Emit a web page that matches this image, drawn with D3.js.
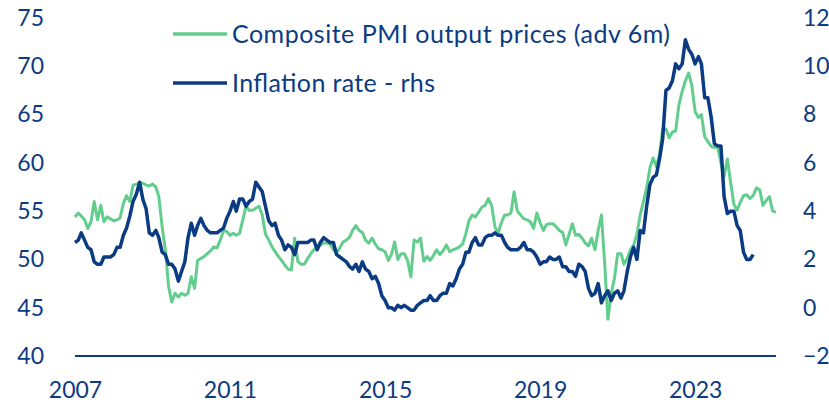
<!DOCTYPE html>
<html>
<head>
<meta charset="utf-8">
<script src="https://cdn.jsdelivr.net/npm/d3@7"></script>
<style>
  body { margin: 0; background: #fff; }
  svg text { font-family: Lato, "Open Sans", sans-serif; fill: #0b3b82; }
</style>
</head>
<body>
<div id="chart"></div>
<script>
// UK CPI inflation, % y/y, monthly from Jan 2007 (rhs)
const inflation = [
  2.7, 2.8, 3.1, 2.8, 2.5, 2.4, 1.9, 1.8, 1.8, 2.1, 2.1, 2.1,
  2.2, 2.5, 2.5, 3.0, 3.3, 3.8, 4.4, 4.7, 5.2, 4.5, 4.1, 3.1,
  3.0, 3.2, 2.9, 2.3, 2.2, 1.8, 1.8, 1.6, 1.1, 1.5, 1.9, 2.9,
  3.5, 3.0, 3.4, 3.7, 3.4, 3.2, 3.1, 3.1, 3.1, 3.2, 3.3, 3.7,
  4.0, 4.4, 4.0, 4.5, 4.5, 4.2, 4.4, 4.5, 5.2, 5.0, 4.8, 4.2,
  3.6, 3.4, 3.5, 3.0, 2.8, 2.4, 2.6, 2.5, 2.2, 2.7, 2.7, 2.7,
  2.7, 2.8, 2.8, 2.4, 2.7, 2.9, 2.8, 2.7, 2.7, 2.2, 2.1, 2.0,
  1.9, 1.7, 1.6, 1.8, 1.5, 1.9, 1.6, 1.5, 1.2, 1.3, 1.0, 0.5,
  0.3, 0.0, 0.0, -0.1, 0.1, 0.0, 0.1, 0.0, -0.1, -0.1, 0.1, 0.2,
  0.3, 0.3, 0.5, 0.3, 0.3, 0.5, 0.6, 0.6, 1.0, 0.9, 1.2, 1.6,
  1.8, 2.3, 2.3, 2.7, 2.9, 2.6, 2.6, 2.9, 3.0, 3.0, 3.1, 3.0,
  3.0, 2.7, 2.5, 2.4, 2.4, 2.4, 2.5, 2.7, 2.4, 2.4, 2.3, 2.1,
  1.8, 1.9, 1.9, 2.1, 2.0, 2.0, 2.1, 1.7, 1.7, 1.5, 1.5, 1.3,
  1.8, 1.7, 1.5, 0.8, 0.5, 0.6, 1.0, 0.2, 0.5, 0.7, 0.3, 0.6,
  0.7, 0.4, 0.7, 1.5, 2.1, 2.5, 2.0, 3.2, 3.1, 4.2, 5.1, 5.4,
  5.5, 6.2, 7.0, 9.0, 9.1, 9.4, 10.1, 9.9, 10.1, 11.1, 10.7, 10.5,
  10.1, 10.4, 10.1, 8.7, 8.7, 7.9, 6.8, 6.7, 6.7, 4.6, 3.9, 4.0,
  4.0, 3.4, 3.2, 2.3, 2.0, 2.0, 2.2
]
const inflationStart = new Date(2007, 0, 1)

// Composite PMI output prices, monthly from Jul 2006, shown 6 months ahead (lhs)
const pmiPrices = [
  54.4, 54.8, 54.5, 54.1, 53.2, 53.9, 56.0, 54.1, 55.6, 53.9, 54.4, 54.2,
  54.0, 54.1, 54.3, 55.8, 56.6, 56.0, 57.7, 57.8, 57.9, 57.9, 57.7, 57.6,
  57.8, 57.5, 56.5, 53.4, 51.0, 47.2, 45.6, 46.5, 46.1, 46.5, 46.3, 46.5,
  48.2, 47.0, 49.9, 50.1, 50.3, 50.6, 50.9, 51.3, 51.2, 52.0, 53.0, 52.9,
  52.5, 52.7, 52.5, 52.7, 54.1, 55.5, 55.1, 55.1, 55.3, 55.5, 54.6, 52.6,
  52.0, 51.3, 50.8, 50.3, 49.9, 49.4, 49.0, 48.9, 52.2, 49.8, 49.5, 49.5,
  50.1, 50.6, 51.0, 51.2, 51.5, 51.7, 51.7, 51.6, 51.0, 50.7, 51.2, 51.8,
  52.0, 52.3, 53.0, 53.5, 53.0, 52.8, 52.0, 51.7, 52.2, 51.6, 51.1, 51.0,
  50.8, 49.9, 50.5, 51.8, 50.0, 50.6, 50.6, 49.9, 48.2, 52.0, 51.8, 52.2,
  49.8, 50.3, 49.9, 50.4, 51.0, 50.5, 50.9, 51.5, 50.8, 51.0, 51.1, 51.3,
  51.6, 52.7, 54.0, 54.6, 54.4, 54.9, 55.4, 55.6, 56.3, 55.6, 53.4, 52.7,
  53.8, 54.6, 54.6, 54.8, 57.0, 55.0, 54.6, 54.2, 54.1, 53.9, 53.2, 54.8,
  53.8, 53.0, 53.6, 53.7, 53.7, 53.4, 53.0, 52.8, 51.5, 52.6, 53.7, 52.5,
  52.6, 52.2, 51.7, 51.4, 52.2, 51.0, 53.0, 54.6, 49.5, 43.8, 46.5, 48.0,
  50.6, 50.6, 49.5, 50.1, 51.0, 51.5, 52.6, 54.6, 56.0, 57.4, 59.5, 60.5,
  59.6, 61.0, 63.5, 63.5, 62.6, 63.2, 63.3, 66.0, 67.4, 68.5, 69.3, 68.0,
  65.3, 64.7, 65.0, 62.7, 62.2, 61.7, 61.6, 61.7, 60.0, 58.6, 60.4, 58.0,
  55.7, 55.1, 55.9, 56.6, 56.7, 56.3, 56.6, 57.4, 57.2, 55.6, 56.1, 56.5,
  55.0, 54.9
]
const pmiStart = new Date(2006, 6, 1)
const pmiAdvance = 6

const leftTicks = [40, 45, 50, 55, 60, 65, 70, 75]
const rightTicks = [-2, 0, 2, 4, 6, 8, 10, 12]
const yearTicks = [2007, 2011, 2015, 2019, 2023]
const legendItems = ['Composite PMI output prices (adv 6m)', 'Inflation rate - rhs']

////////////////////////////////////////////////////////////
// Setup
////////////////////////////////////////////////////////////

const W = 829
const H = 405
const blue = '#0b3b82'
const green = '#62cd8d'

const svg = d3.select('#chart')
  .append('svg')
  .attr('width', W)
  .attr('height', H)

const x = d3.scaleTime()
  .domain([new Date(2007, 0, 1), new Date(2025, 1, 1)])
  .range([75, 776])

const yLeft = d3.scaleLinear()
  .domain([40, 75])
  .range([356, 18])

const yRight = d3.scaleLinear()
  .domain([-2, 12])
  .range([356, 18])

const inflationData = inflation.map((v, i) => ({
  date: d3.timeMonth.offset(inflationStart, i), value: v
}))
const pmiData = pmiPrices.map((v, i) => ({
  date: d3.timeMonth.offset(pmiStart, i + pmiAdvance), value: v
}))

////////////////////////////////////////////////////////////
// Axes
////////////////////////////////////////////////////////////

const fontSize = 23

const leftAxis = svg.append('g')
  .attr('transform', 'translate(44,0)')
  .call(d3.axisLeft(yLeft).tickValues(leftTicks).tickSize(0).tickPadding(0))
leftAxis.select('.domain').remove()

const rightAxis = svg.append('g')
  .attr('transform', 'translate(803,0)')
  .call(d3.axisRight(yRight).tickValues(rightTicks).tickSize(0).tickPadding(0))
rightAxis.select('.domain').remove()

const bottomAxis = svg.append('g')
  .attr('transform', 'translate(0,356)')
  .call(d3.axisBottom(x)
    .tickValues(yearTicks.map(yr => new Date(yr, 0, 1)))
    .tickFormat(d3.timeFormat('%Y'))
    .tickSize(0))
bottomAxis.select('.domain').remove()
bottomAxis.selectAll('text').attr('y', 42).attr('dy', null)

svg.selectAll('.tick text')
  .style('font-size', fontSize + 'px')
  .attr('fill', blue)

// Baseline
svg.append('line')
  .attr('x1', x.range()[0])
  .attr('x2', x.range()[1])
  .attr('y1', yLeft(40))
  .attr('y2', yLeft(40))
  .attr('stroke', blue)
  .attr('stroke-width', 2)

////////////////////////////////////////////////////////////
// Lines
////////////////////////////////////////////////////////////

const pmiLine = d3.line()
  .x(d => x(d.date))
  .y(d => yLeft(d.value))

const inflationLine = d3.line()
  .x(d => x(d.date))
  .y(d => yRight(d.value))

svg.append('path')
  .datum(pmiData)
  .attr('d', pmiLine)
  .attr('fill', 'none')
  .attr('stroke', green)
  .attr('stroke-width', 3)
  .attr('stroke-linejoin', 'round')

svg.append('path')
  .datum(inflationData)
  .attr('d', inflationLine)
  .attr('fill', 'none')
  .attr('stroke', blue)
  .attr('stroke-width', 3.5)
  .attr('stroke-linejoin', 'round')

////////////////////////////////////////////////////////////
// Legend
////////////////////////////////////////////////////////////

const legend = svg.append('g')
const legendColors = [green, blue]
const legendWidths = [438, 203]
legendItems.forEach((label, i) => {
  const ly = 34 + i * 49
  legend.append('line')
    .attr('x1', 173).attr('x2', 227)
    .attr('y1', ly).attr('y2', ly)
    .attr('stroke', legendColors[i])
    .attr('stroke-width', 3.5)
  legend.append('text')
    .attr('x', 232)
    .attr('y', ly + 9)
    .attr('textLength', legendWidths[i])
    .attr('lengthAdjust', 'spacing')
    .style('font-size', '25px')
    .attr('fill', blue)
    .text(label)
})
</script>
</body>
</html>
